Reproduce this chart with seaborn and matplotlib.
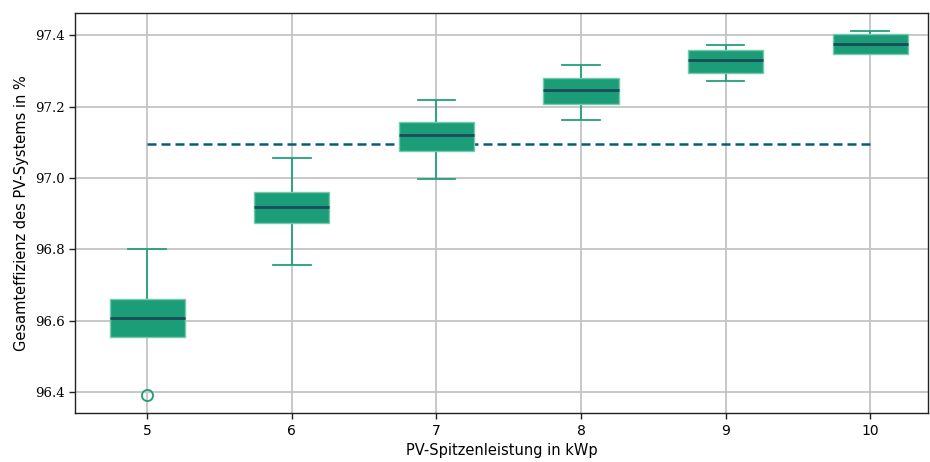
import matplotlib
matplotlib.use("Agg")
import matplotlib.pyplot as plt
import pandas as pd
import seaborn as sns

# Box statistics per PV peak power (kWp), efficiency in %
kwp = [5, 6, 7, 8, 9, 10]
minimum = [96.39, 96.757, 96.997, 97.162, 97.272, 97.347]   # at 5 kWp this is an outlier
q1 = [96.555, 96.873, 97.076, 97.209, 97.294, 97.348]
median = [96.608, 96.919, 97.120, 97.247, 97.330, 97.375]
q3 = [96.660, 96.960, 97.156, 97.281, 97.360, 97.404]
maximum = [96.800, 97.057, 97.219, 97.317, 97.373, 97.412]
reference_level = 97.096

y_ticks = [96.4, 96.6, 96.8, 97.0, 97.2, 97.4]

# Seven values per group reproduce the quartiles exactly (linear percentiles)
rows = []
for k, lo, a, m, b, hi in zip(kwp, minimum, q1, median, q3, maximum):
    for v in (lo, a, a, m, b, b, hi):
        rows.append({"kWp": k, "eff": v})
df = pd.DataFrame(rows)

green = "#1b9e77"

fig = plt.figure(figsize=(9.3, 4.62), dpi=100)
ax = fig.add_axes([0.0806, 0.1054, 0.9172, 0.8658])

sns.boxplot(
    data=df, x="kWp", y="eff", ax=ax,
    width=0.52, color=green, linecolor=green, saturation=1,
    linewidth=1.3,
    boxprops=dict(edgecolor="#74c9ae", linewidth=1.0, zorder=3),
    medianprops=dict(color="#1d4b5c", linewidth=2.0, zorder=3.5),
    whiskerprops=dict(color="#22a07c", linewidth=1.3, zorder=2.5),
    capprops=dict(color="#22a07c", linewidth=1.3, zorder=2.5),
    flierprops=dict(marker="o", markersize=8, markerfacecolor="none",
                    markeredgecolor=green, markeredgewidth=1.3, zorder=3),
)

ax.plot([0, len(kwp) - 1], [reference_level, reference_level],
        color="#0b5a78", linewidth=1.8, dashes=(3.6, 2.0), zorder=2.7)

ax.set_xlim(-0.5, 5.4)
ax.set_ylim(96.340, 97.462)
ax.set_yticks(y_ticks)
ax.set_yticklabels([f"{t:.1f}" for t in y_ticks], family="DejaVu Serif", fontsize=9.5)
ax.set_xticks(range(len(kwp)))
ax.set_xticklabels([str(k) for k in kwp], fontsize=10)

ax.grid(True, color="#c4c4c4", linewidth=1.3, zorder=0)
ax.set_axisbelow(True)
for s in ax.spines.values():
    s.set_color("#222222")
    s.set_linewidth(1.0)
ax.tick_params(direction="out", length=4, width=1.0, color="#222222")

ax.set_xlabel("PV-Spitzenleistung in kWp", fontsize=10.5)
ax.set_ylabel("Gesamteffizienz des PV-Systems in %", fontsize=10.5)

fig.savefig("out.png", dpi=100)
